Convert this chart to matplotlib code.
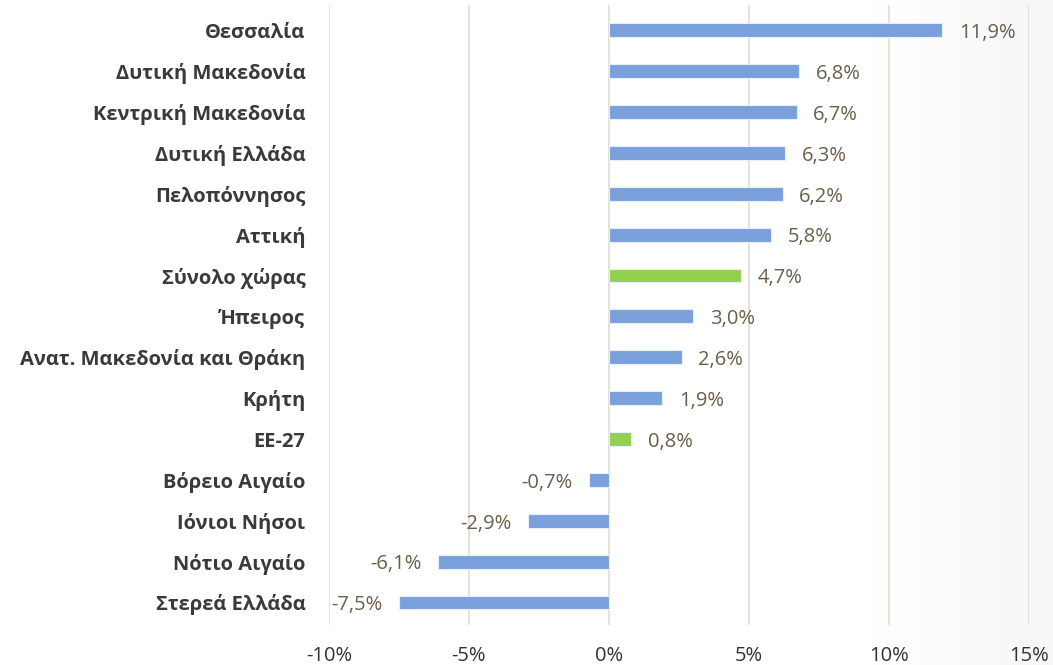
import numpy as np
import matplotlib.pyplot as plt

plt.rcParams['font.family'] = ['Open Sans', 'DejaVu Sans']

regions = ['Θεσσαλία', 'Δυτική Μακεδονία', 'Κεντρική Μακεδονία', 'Δυτική Ελλάδα',
           'Πελοπόννησος', 'Αττική', 'Σύνολο χώρας', 'Ήπειρος',
           'Ανατ. Μακεδονία και Θράκη', 'Κρήτη', 'ΕΕ-27', 'Βόρειο Αιγαίο',
           'Ιόνιοι Νήσοι', 'Νότιο Αιγαίο', 'Στερεά Ελλάδα']
values = [11.9, 6.8, 6.7, 6.3, 6.2, 5.8, 4.7, 3.0, 2.6, 1.9, 0.8, -0.7, -2.9, -6.1, -7.5]
highlight = ['Σύνολο χώρας', 'ΕΕ-27']
xticks = [-10, -5, 0, 5, 10, 15]

blue = '#7AA0DC'
green = '#92D050'
lab_col = '#6B5E48'

fig = plt.figure(figsize=(10.53, 6.65), dpi=100)

# faint grey shading towards the right edge, like the original slide
bg = fig.add_axes([0, 0, 1, 1], zorder=-1)
grad = np.clip((np.linspace(0, 1, 400) - 0.82) / 0.18, 0, 1)
bg.imshow(grad[None, :], aspect='auto', cmap='Greys', vmin=0, vmax=14,
          extent=[0, 1, 0, 1])
bg.axis('off')

ax = fig.add_axes([0.3124, 0.0602, 0.6648, 0.9323])
ax.patch.set_alpha(0)

y = np.arange(len(regions))
colors = [green if r in highlight else blue for r in regions]
ax.barh(y, values, height=0.34, color=colors, edgecolor='#E8EEF8', linewidth=0.8, zorder=3)

for yi, v in zip(y, values):
    txt = f'{v:.1f}%'.replace('.', ',')
    if v >= 0:
        ax.annotate(txt, (v, yi), xytext=(12, -2), textcoords='offset points',
                    ha='left', va='center', fontsize=14.5, color=lab_col)
    else:
        ax.annotate(txt, (v, yi), xytext=(-12, -2), textcoords='offset points',
                    ha='right', va='center', fontsize=14.5, color=lab_col)

ax.set_xlim(-10, 15)
ax.set_ylim(14.55, -0.62)
ax.set_xticks(xticks)
ax.set_xticklabels([f'{t}%' for t in xticks], fontsize=14.5, color='#333333')
ax.set_yticks(y)
ax.set_yticklabels(regions, fontsize=14.5, fontweight='bold', color='#3A3A3A')
ax.tick_params(axis='both', length=0)
ax.tick_params(axis='x', pad=15)
ax.tick_params(axis='y', pad=17)
ax.grid(axis='x', color='#E3DFD8', linewidth=1.3, zorder=0)
ax.grid(axis='y', visible=False)
for s in ax.spines.values():
    s.set_visible(False)

fig.savefig('out.png', dpi=100)
